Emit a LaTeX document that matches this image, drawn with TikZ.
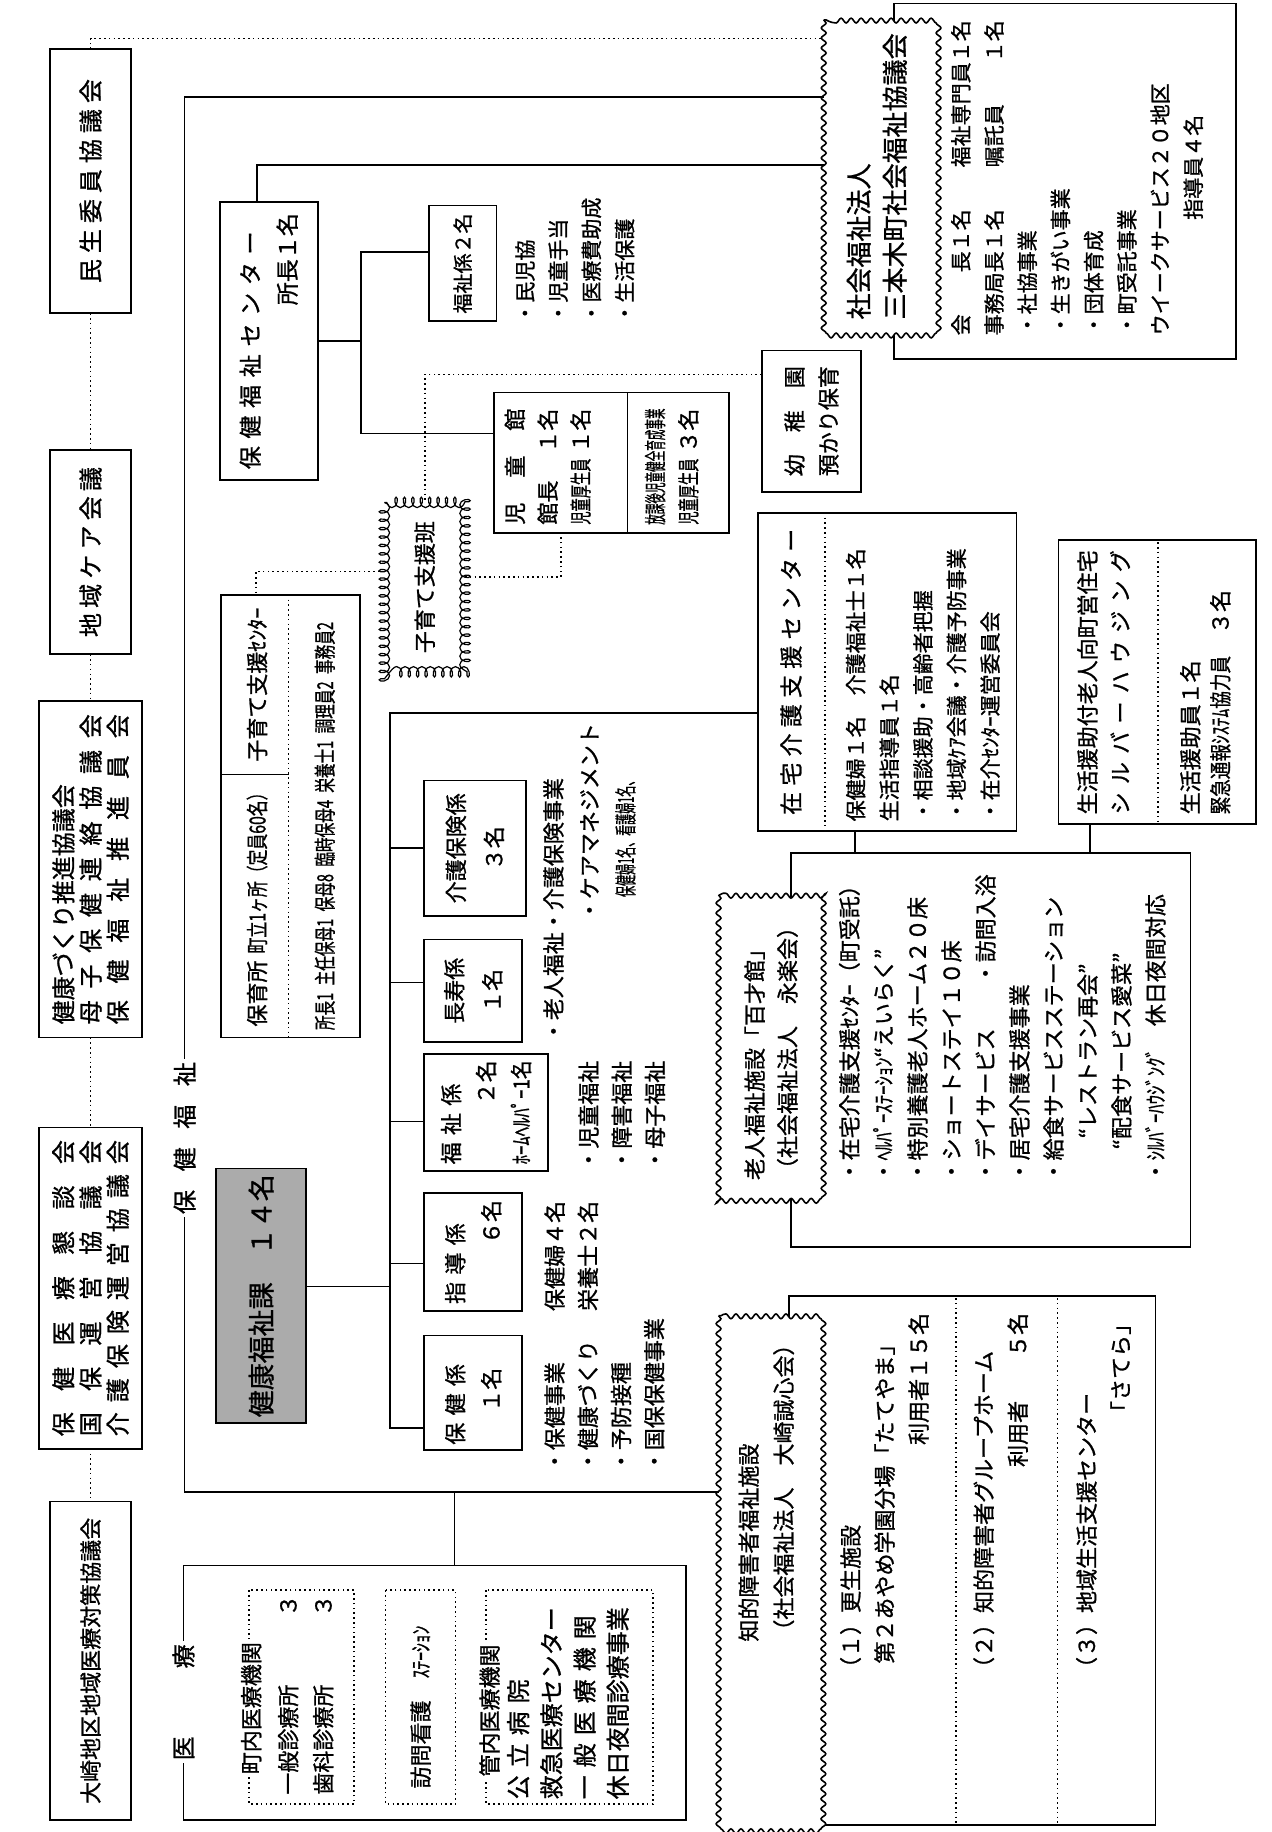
\documentclass[tikz,border=0pt]{standalone}
\usepackage{fontspec}
\usepackage{graphicx}
\setmainfont{Noto Sans CJK JP}[FakeBold=1.0]
\usetikzlibrary{decorations.pathmorphing,calc}
\newcommand\rgt{\mbox{}\hfill}
\newcommand\spr[2]{\makebox[#1][s]{#2}}
\newcommand\sq[2]{\scalebox{#1}[1]{#2}}
\newcommand\fsz[2]{\fontsize{#1}{#2}\selectfont}
\begin{document}
\begin{tikzpicture}[x=0.584pt,y=-0.584pt,
 rt/.style={rotate=90,inner sep=0pt,outer sep=0pt,font=\fsz{11}{16.5}},
 sz/.style 2 args={minimum width=#2*0.584pt,minimum height=#1*0.584pt},
 bx/.style={rt,draw,line width=0.85pt,fill=white},
 wv/.style={rt,draw,line width=0.8pt,fill=white,decorate,decoration={snake,amplitude=1.2pt,segment length=5pt}},
 cl/.style={rt,draw,line width=0.6pt,fill=white,decorate,decoration={coil,aspect=0.6,amplitude=2.6pt,segment length=4.2pt}},
 dbx/.style={rt,draw,line width=0.8pt,dash pattern=on 0.8pt off 1.6pt},
 tx/.style={rt,align=left,anchor=north west},
 lb/.style={rt,fill=white,inner sep=1.5pt},
 ln/.style={line width=0.85pt},
 dl/.style={line width=0.8pt,dash pattern=on 0.8pt off 1.6pt},
]
\useasboundingbox (0,0) rectangle (1088,1568);

% ---------------- committees (left column)
\node[bx,sz={69}{226},font=\fsz{12}{14}] (minsei) at (77.5,155) {\spr{102pt}{民 生 委 員 協 議 会}};
\node[bx,sz={69}{175},font=\fsz{12}{14}] (care) at (77.5,472.5) {\spr{85pt}{地 域 ケ ア 会 議}};
\node[bx,sz={88}{288},align=left,font=\fsz{12}{13.6}] (kenko) at (77.5,744) {\spr{155pt}{健康づくり推進協議会}\\\spr{155pt}{母 子 保 健 連 絡 協 議 会}\\\spr{155pt}{保 健 福 祉 推 進 員 会}};
\node[bx,sz={88}{275},align=left,font=\fsz{12}{13.6}] (iryokon) at (77.5,1102.5) {\spr{148pt}{保 健 医 療 懇 談 会}\\\spr{148pt}{国 保 運 営 協 議 会}\\\spr{148pt}{介 護 保 険 運 営 協 議 会}};
\node[bx,sz={69}{273}] (osaki) at (77.5,1421.5) {大崎地区地域医療対策協議会};

% ---------------- social welfare council
\node[bx,sz={293}{304}] (shakyoB) at (911.5,155) {};
\node[wv,sz={91}{268},align=left,font=\fsz{13}{18}] (shakyo) at (750.5,151) {社会福祉法人\\三本木町社会福祉協議会};
\node[tx,font=\fsz{10.5}{16.6}] (shakyoT) at (814,287) {会\hspace{2em}長１名\hspace{2em}福祉専門員１名\\事務局長１名\hspace{2em}嘱託員\hspace{2em}１名\\・社協事業\\・生きがい事業\\・団体育成\\・町受託事業\\ウイークサービス２０地区\\\hspace*{5.5em}指導員４名};

% ---------------- health & welfare center
\node[bx,sz={84}{238},align=left,text width=128pt,font=\fsz{11.5}{18.5}] (hwc) at (230,292) {\spr{128pt}{保 健 福 祉 セ ン タ ー}\\\rgt 所長１名};
\node[bx,sz={58}{99},font=\fsz{10}{12}] (fuku2) at (396,225.5) {福祉係２名};
\node[tx,font=\fsz{10.5}{16.6}] (fuku2T) at (441,277) {・民児協\\・児童手当\\・医療費助成\\・生活保護};
\node[bx,sz={201}{120}] (jidokan) at (523.5,396) {};
\draw[ln] (537,336) -- (537,456);
\node[tx,font=\fsz{11}{16.4}] (jidoL) at (432,449) {\spr{58pt}{児 童 館}\\\spr{58pt}{館長 １名}\\\makebox[58pt]{\sq{0.6}{児童厚生員}\hfill １名}};
\node[tx,font=\fsz{11}{16.6}] (jidoR) at (552,449) {\makebox[58pt]{\sq{0.48}{放課後児童健全育成事業}}\\\makebox[58pt]{\sq{0.6}{児童厚生員}\hfill ３名}};
\node[bx,sz={85}{121},align=left,font=\fsz{11}{17}] (yochien) at (694.5,360.5) {\spr{55pt}{幼 稚 園}\\預かり保育};
\node[cl,sz={69}{145}] (kosodate) at (363.5,502.5) {子育て支援班};

\node[bx,sz={119}{379}] (hoikusho) at (248.5,698.5) {};
\draw[dl] (247,509) -- (247,888);
\draw[ln] (189,663) -- (247,663);
\node[rt] (hk1) at (220,586) {子育て支援ｾﾝﾀｰ};
\node[rt] (hk2) at (220,775) {\makebox[121pt]{保育所\hfill\sq{0.72}{町立1ヶ所（定員60名）}}};
\node[rt] (hk3) at (278,707) {\sq{0.665}{所長1\hspace{0.5em}主任保母1\hspace{0.5em}保母8\hspace{0.5em}臨時保母4\hspace{0.5em}栄養士1\hspace{0.5em}調理員2\hspace{0.5em}事務員2}};

% ---------------- health & welfare division
\node[bx,sz={77}{218},fill=black!33,font=\fsz{13.5}{16}] (kenfuku) at (223.5,1109) {健康福祉課　１４名};
\node[bx,sz={87}{116},align=center,font=\fsz{11}{19}] (kaigo) at (406.5,726) {介護保険係\\３名};
\node[bx,sz={84}{88},align=center,font=\fsz{11}{19}] (choju) at (405,848) {長寿係\\１名};
\node[bx,sz={106}{100},align=left,text width=52pt,font=\fsz{11}{17.5}] (fukushi) at (416,952) {\spr{52pt}{福 祉 係}\\\rgt ２名\\\sq{0.85}{ﾎｰﾑﾍﾙﾊﾟｰ1名}};
\node[bx,sz={84}{101},align=left,text width=52pt,font=\fsz{11}{18}] (shido) at (405,1071.5) {\spr{52pt}{指 導 係}\\\rgt ６名};
\node[bx,sz={84}{98},align=left,text width=52pt,font=\fsz{11}{18}] (hokenkei) at (405,1192) {\spr{52pt}{保 健 係}\\\hspace*{1.5em}１名};

\node[tx,font=\fsz{11}{18}] (kaigoT) at (465,892) {・老人福祉・介護保険事業\\\hspace*{5.5em}・ケアマネジメント\\\hspace*{6.6em}\sq{0.5}{保健婦1名、看護婦1名、}};
\node[tx,font=\fsz{11}{16.6}] (fukushiT) at (495,1002) {・児童福祉\\・障害福祉\\・母子福祉};
\node[tx,font=\fsz{11}{16.6}] (shidoT) at (466,1122) {保健婦４名\\栄養士２名};
\node[tx,font=\fsz{11}{16.6}] (hokenT) at (466,1260) {・保健事業\\・健康づくり\\・予防接種\\・国保保健事業};

% ---------------- home care support center
\node[bx,sz={221}{272}] (zaitaku) at (759.5,575) {};
\draw[dl] (706,443) -- (706,707);
\node[rt,font=\fsz{11.5}{14}] (zaiT) at (677,575) {\spr{143pt}{在 宅 介 護 支 援 セ ン タ ー}};
\node[tx,font=\fsz{10.5}{16.8}] (zaiL) at (724,703) {保健婦１名　介護福祉士１名\\生活指導員１名\\・相談援助・高齢者把握\\・地域ｹｱ会議・介護予防事業\\・在介ｾﾝﾀｰ運営委員会};

\node[bx,sz={169}{243}] (seikatsu) at (990.5,583.5) {};
\draw[dl] (991,464) -- (991,703);
\node[tx,font=\fsz{11}{16.4}] (seiA) at (922,697) {生活援助付老人向町営住宅\\\spr{132pt}{シ ル バ ー ハ ウ ジ ン グ}};
\node[tx,font=\fsz{11}{15}] (seiB) at (1010,697) {生活援助員１名\\\sq{0.8}{緊急通報ｼｽﾃﾑ協力員}　３名};

% ---------------- elderly welfare facility
\node[bx,sz={342}{337}] (rojinB) at (848,898.5) {};
\node[wv,sz={90}{262},align=left,font=\fsz{11}{16.4}] (rojin) at (660,897) {老人福祉施設「百才館」\\（社会福祉法人　永楽会）};
\node[tx,font=\fsz{11}{17}] (rojinT) at (718,1012) {・在宅介護支援ｾﾝﾀｰ（町受託）\\・\sq{0.85}{ﾍﾙﾊﾟｰｽﾃｰｼｮﾝ}“えいらく”\\・特別養護老人ホーム２０床\\・ショートステイ１０床\\・デイサービス　　・訪問入浴\\・居宅介護支援事業\\・給食サービスステーション\\\hspace*{2em}“レストラン再会”\\\hspace*{1.5em}“配食サービス愛菜”\\・\sq{0.85}{ｼﾙﾊﾞｰﾊｳｼﾞﾝｸﾞ}　休日夜間対応};

% ---------------- facility for intellectually disabled
\node[bx,sz={314}{453}] (chitekiB) at (832,1335.5) {};
\draw[dl] (818,1111) -- (818,1560);
\draw[dl] (905,1111) -- (905,1560);
\node[wv,sz={88}{436}] (chitekiW) at (659,1344) {};
\node[tx,font=\fsz{11}{17.5}] (chitekiT) at (632,1405) {知的障害者福祉施設\\（社会福祉法人　大崎誠心会）};
\node[tx,text width=183pt,font=\fsz{11}{17}] (ch1) at (719,1437) {（１）更生施設\\\hspace*{0.7em}第２あやめ学園分場「たてやま」\\\rgt 利用者１５名};
\node[tx,text width=183pt,font=\fsz{11}{17}] (ch2) at (833,1437) {（２）知的障害者グループホーム\\\rgt 利用者　　５名};
\node[tx,text width=183pt,font=\fsz{11}{17}] (ch3) at (921,1437) {（３）地域生活支援センター\\\rgt 「さてら」\hspace*{54pt}};

% ---------------- medical care
\node[bx,sz={430}{218}] (iryo) at (372,1449) {};
\node[lb,font=\fsz{12}{14}] (iryoL) at (157,1457) {\spr{58pt}{医 療}};
\node[dbx,sz={90}{183}] (cho) at (258,1452.5) {};
\node[lb,font=\fsz{11}{13}] (choT) at (215,1462) {町内医療機関};
\node[tx,text width=100pt,font=\fsz{11}{17.5}] (choL) at (238,1536) {一般診療所\hfill３\\歯科診療所\hfill３};
\node[dbx,sz={60}{183}] (houmon) at (360,1452.5) {};
\node[rt] (houT) at (360,1461) {訪問看護\hspace{1em}\sq{0.8}{ｽﾃｰｼｮﾝ}};
\node[dbx,sz={143}{183}] (kannai) at (487.5,1452.5) {};
\node[lb,font=\fsz{11}{13}] (kanT) at (419,1464) {管内医療機関};
\node[tx,text width=100pt,font=\fsz{12}{16.6}] (kanL) at (434,1540) {\spr{100pt}{公 立 病 院}\\\spr{100pt}{救急医療センター}\\\spr{100pt}{一 般 医 療 機 関}\\\spr{100pt}{休日夜間診療事業}};

% ---------------- main branch label
\node[lb,font=\fsz{12}{14}] (hf) at (158,974) {\spr{76pt}{保 健 福 祉}};

% ---------------- connectors
\coordinate (tY) at (0,33);
\coordinate (cT) at (158,83);
\coordinate (cB) at (158,1277);
\coordinate (c141) at (0,141);
\coordinate (iJ) at (389,1277);
\coordinate (v1) at (309,293);
\coordinate (bus) at (334,610);

\draw[dl] (minsei.west) -- (care.east);
\draw[dl] (care.west) -- (kenko.east);
\draw[dl] (kenko.west) -- (iryokon.east);
\draw[dl] (iryokon.west) -- (osaki.east);
\draw[dl] (minsei.east) -- (minsei.east |- tY) -- (tY -| shakyo.north);

\draw[ln] (cT -| shakyo.north) -- (cT) -- (hf.east);
\draw[ln] (hf.west) -- (cB) -- (cB -| chitekiW.north);
\draw[ln] (iJ) -- (iJ |- iryo.east);

\coordinate (hT) at ($(hwc.east)+(-10,0)$);
\draw[ln] (hT) -- (hT |- c141) -- (c141 -| shakyo.north);
\draw[ln] (hwc.south) -- (hwc.south -| v1);
\coordinate (fA) at ($(fuku2.north)+(0,-10)$);
\coordinate (jA) at ($(jidokan.north)+(0,-25)$);
\draw[ln] (fA) -- (fA -| v1) -- (v1 |- jA) -- (jA);

\coordinate (yA) at ($(yochien.north)+(0,-40)$);
\draw[dl] (yA) -- (yA -| kosodate.east) -- (kosodate.east);
\coordinate (kL) at ($(kosodate.north)+(0,-13.5)$);
\coordinate (hkx) at ($(hoikusho.east)+(-29.5,0)$);
\draw[dl] (kL) -- (kL -| hkx) -- (hkx);
\coordinate (kR) at ($(kosodate.south)+(0,-8.5)$);
\coordinate (jB) at ($(jidokan.west)+(-43.5,0)$);
\draw[dl] (kR) -- (kR -| jB) -- (jB);

\coordinate (hkb) at ($(hokenkei.north west)+(0,-19)$);
\draw[ln] (zaitaku.north |- bus) -- (bus) -- (bus |- hkb) -- (hkb);
\draw[ln] (bus |- kaigo.north) -- (kaigo.north);
\coordinate (chB) at ($(choju.north)+(0,-7)$);
\draw[ln] (bus |- chB) -- (chB);
\coordinate (fkB) at ($(fukushi.north)+(0,8)$);
\draw[ln] (bus |- fkB) -- (fkB);
\coordinate (sdB) at ($(shido.north)+(0,10)$);
\draw[ln] (bus |- sdB) -- (sdB);
\coordinate (kfB) at ($(kenfuku.south)+(0,-8)$);
\draw[ln] (kfB) -- (kfB -| bus);

\coordinate (zA) at ($(zaitaku.west)+(-27.5,0)$);
\draw[ln] (zA) -- (zA |- rojinB.east);
\coordinate (sA) at ($(seikatsu.west)+(-57.5,0)$);
\draw[ln] (sA) -- (sA |- rojinB.east);
\end{tikzpicture}
\end{document}
